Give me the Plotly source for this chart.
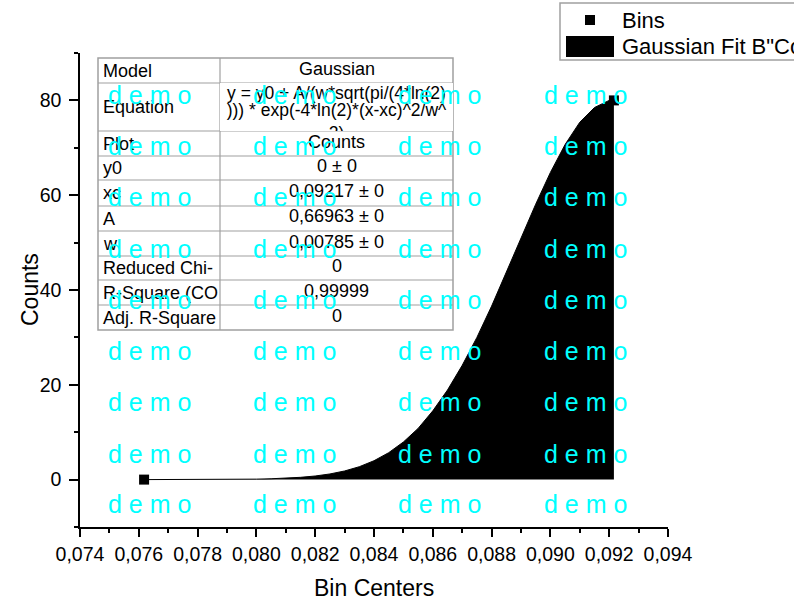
import plotly.graph_objects as go

# ---------------- data ----------------
bins_x = [0.07618, 0.09216]
bins_y = [0, 80]

fit_x = [0.07618, 0.0765, 0.0770, 0.0775, 0.0780, 0.0785, 0.0790, 0.0795, 0.0800,
         0.0805, 0.0810, 0.0815, 0.0820, 0.0825, 0.0830, 0.0835, 0.0840, 0.0845,
         0.0850, 0.0855, 0.0860, 0.0865, 0.0870, 0.0875, 0.0880, 0.0885, 0.0890,
         0.0895, 0.0900, 0.0905, 0.0910, 0.0915, 0.0920, 0.09216]
fit_y = [0.0, 0.0, 0.0, 0.01, 0.01, 0.02, 0.03, 0.06, 0.10,
         0.18, 0.29, 0.48, 0.76, 1.19, 1.82, 2.72, 3.98, 5.68,
         7.93, 10.8, 14.5, 18.9, 24.1, 30.0, 36.6, 43.7, 51.0,
         58.1, 64.8, 70.7, 75.4, 78.5, 80.0, 80.1]

table_names = ["Model", "Equation", "Plot", "y0", "xc", "A", "w",
               "Reduced Chi-", "R-Square (CO", "Adj. R-Square"]
table_values = ["Gaussian", "", "Counts", "0 ± 0", "0,09217 ± 0", "0,66963 ± 0",
                "0,00785 ± 0", "0", "0,99999", "0"]
equation_lines = ["y = y0 + A/(w*sqrt(pi/(4*ln(2)",
                  "))) * exp(-4*ln(2)*(x-xc)^2/w^",
                  "2)"]

legend_labels = ["Bins", 'Gaussian Fit B"Counts"']
x_title = "Bin Centers"
y_title = "Counts"
watermark = "d e m o"

# ---------------- layout helpers (pixel -> paper) ----------------
W, H = 794, 604
L, R, T, B = 80, 668, 53, 527
def xp(px):
    return (px - L) / (R - L)
def yp(py):
    return (B - py) / (B - T)

FONT = "Liberation Sans, Arial, sans-serif"

fig = go.Figure()

fig.add_trace(go.Scatter(
    x=fit_x, y=fit_y, mode="lines", fill="tozeroy", fillcolor="black",
    line=dict(color="black", width=1), showlegend=False, hoverinfo="skip"))
fig.add_trace(go.Scatter(
    x=bins_x, y=bins_y, mode="markers",
    marker=dict(symbol="square", size=10, color="black"), showlegend=False))

# ---------------- table ----------------
row_edges = [58, 83, 131, 156, 180, 206, 231, 256, 280, 305, 330]
tx0, tmid, tx1 = 98, 220, 453
gray = "#a0a0a0"
shapes = []
shapes.append(dict(type="rect", xref="paper", yref="paper", layer="below",
                   x0=xp(tx0), x1=xp(tx1), y0=yp(row_edges[-1]), y1=yp(row_edges[0]),
                   fillcolor="white", line=dict(color=gray, width=1.5)))
for e in row_edges[1:-1]:
    shapes.append(dict(type="line", xref="paper", yref="paper", layer="below",
                       x0=xp(tx0), x1=xp(tx1), y0=yp(e), y1=yp(e),
                       line=dict(color=gray, width=1.2)))
shapes.append(dict(type="line", xref="paper", yref="paper", layer="below",
                   x0=xp(tmid), x1=xp(tmid), y0=yp(row_edges[-1]), y1=yp(row_edges[0]),
                   line=dict(color=gray, width=1.2)))

TFS = 18
annotations = []
for i, (n, v) in enumerate(zip(table_names, table_values)):
    cy = (row_edges[i] + row_edges[i + 1]) / 2
    annotations.append(dict(x=xp(tx0 + 3), y=yp(cy), xref="paper", yref="paper",
                            text=n, showarrow=False, xanchor="left", yanchor="middle",
                            font=dict(family=FONT, size=TFS, color="black")))
    if v:
        annotations.append(dict(x=xp((tmid + tx1) / 2), y=yp(cy - 2), xref="paper",
                                yref="paper", text=v, showarrow=False,
                                xanchor="center", yanchor="middle",
                                font=dict(family=FONT, size=TFS, color="black")))

# equation text in its own clipped cell subplot
eq_top, eq_bot = row_edges[1], row_edges[2]
eq_py = [95, 112, 135]
fig.add_trace(go.Scatter(
    x=[0.5] * 3, y=[(eq_bot - p) / (eq_bot - eq_top) for p in eq_py],
    mode="text", text=equation_lines, textposition="middle center",
    textfont=dict(family=FONT, size=17.5, color="black"),
    xaxis="x2", yaxis="y2", cliponaxis=True, showlegend=False, hoverinfo="skip"))

# ---------------- legend (manual) ----------------
shapes.append(dict(type="rect", xref="paper", yref="paper", layer="above",
                   x0=xp(560), x1=xp(820), y0=yp(60), y1=yp(3),
                   fillcolor="white", line=dict(color=gray, width=1.5)))
shapes.append(dict(type="rect", xref="paper", yref="paper", layer="above",
                   x0=xp(585), x1=xp(595), y0=yp(25), y1=yp(15),
                   fillcolor="black", line=dict(width=0)))
shapes.append(dict(type="rect", xref="paper", yref="paper", layer="above",
                   x0=xp(566), x1=xp(614), y0=yp(57), y1=yp(36),
                   fillcolor="black", line=dict(width=0)))
for lab, py in zip(legend_labels, [20, 47]):
    annotations.append(dict(x=xp(620), y=yp(py), xref="paper", yref="paper",
                            text=lab, showarrow=False, xanchor="left", yanchor="middle",
                            font=dict(family=FONT, size=22, color="black")))

# ---------------- axis titles ----------------
annotations.append(dict(x=xp(374), y=yp(588), xref="paper", yref="paper", text=x_title,
                        showarrow=False, xanchor="center", yanchor="middle",
                        font=dict(family=FONT, size=23, color="black")))
annotations.append(dict(x=xp(30), y=yp(290), xref="paper", yref="paper", text=y_title,
                        showarrow=False, xanchor="center", yanchor="middle", textangle=-90,
                        font=dict(family=FONT, size=23, color="black")))

# ---------------- watermark ----------------
wm_x = [106, 251, 396, 542]
wm_y = [94.5, 146, 197, 248.5, 300, 351, 402.5, 454, 504]
for wy in wm_y:
    for wx in wm_x:
        annotations.append(dict(x=xp(wx), y=yp(wy), xref="paper", yref="paper",
                                text=watermark, showarrow=False, xanchor="left",
                                yanchor="middle",
                                font=dict(family=FONT, size=25, color="#00FFFF")))

fig.update_layout(
    width=W, height=H, margin=dict(l=L, r=W - R, t=T, b=H - B, pad=0),
    paper_bgcolor="white", plot_bgcolor="white", separators=",.",
    showlegend=False, shapes=shapes, annotations=annotations,
    xaxis=dict(range=[0.074, 0.094], tick0=0.074, dtick=0.002, tickformat=".3f",
               showgrid=False, zeroline=False, showline=True, linecolor="black",
               linewidth=1.5, ticks="outside", ticklen=8, tickwidth=1.5,
               tickcolor="black", tickfont=dict(family=FONT, size=19.5, color="black"),
               minor=dict(dtick=0.001, tick0=0.074, ticks="outside", ticklen=4,
                          tickwidth=1.5, tickcolor="black"),
               ticklabelstandoff=1),
    yaxis=dict(range=[-10, 90], tick0=0, dtick=20, showgrid=False, zeroline=False,
               showline=True, linecolor="black", linewidth=1.5, ticks="outside",
               ticklen=9, tickwidth=1.5, tickcolor="black",
               tickfont=dict(family=FONT, size=19.5, color="black"),
               minor=dict(dtick=10, tick0=0, ticks="outside", ticklen=4,
                          tickwidth=1.5, tickcolor="black"),
               ticklabelstandoff=4),
    xaxis2=dict(domain=[xp(tmid), xp(tx1)], range=[0, 1], visible=False,
                anchor="y2", fixedrange=True),
    yaxis2=dict(domain=[yp(eq_bot), yp(eq_top)], range=[0, 1], visible=False,
                anchor="x2", fixedrange=True),
)

fig.write_html("out.html")
